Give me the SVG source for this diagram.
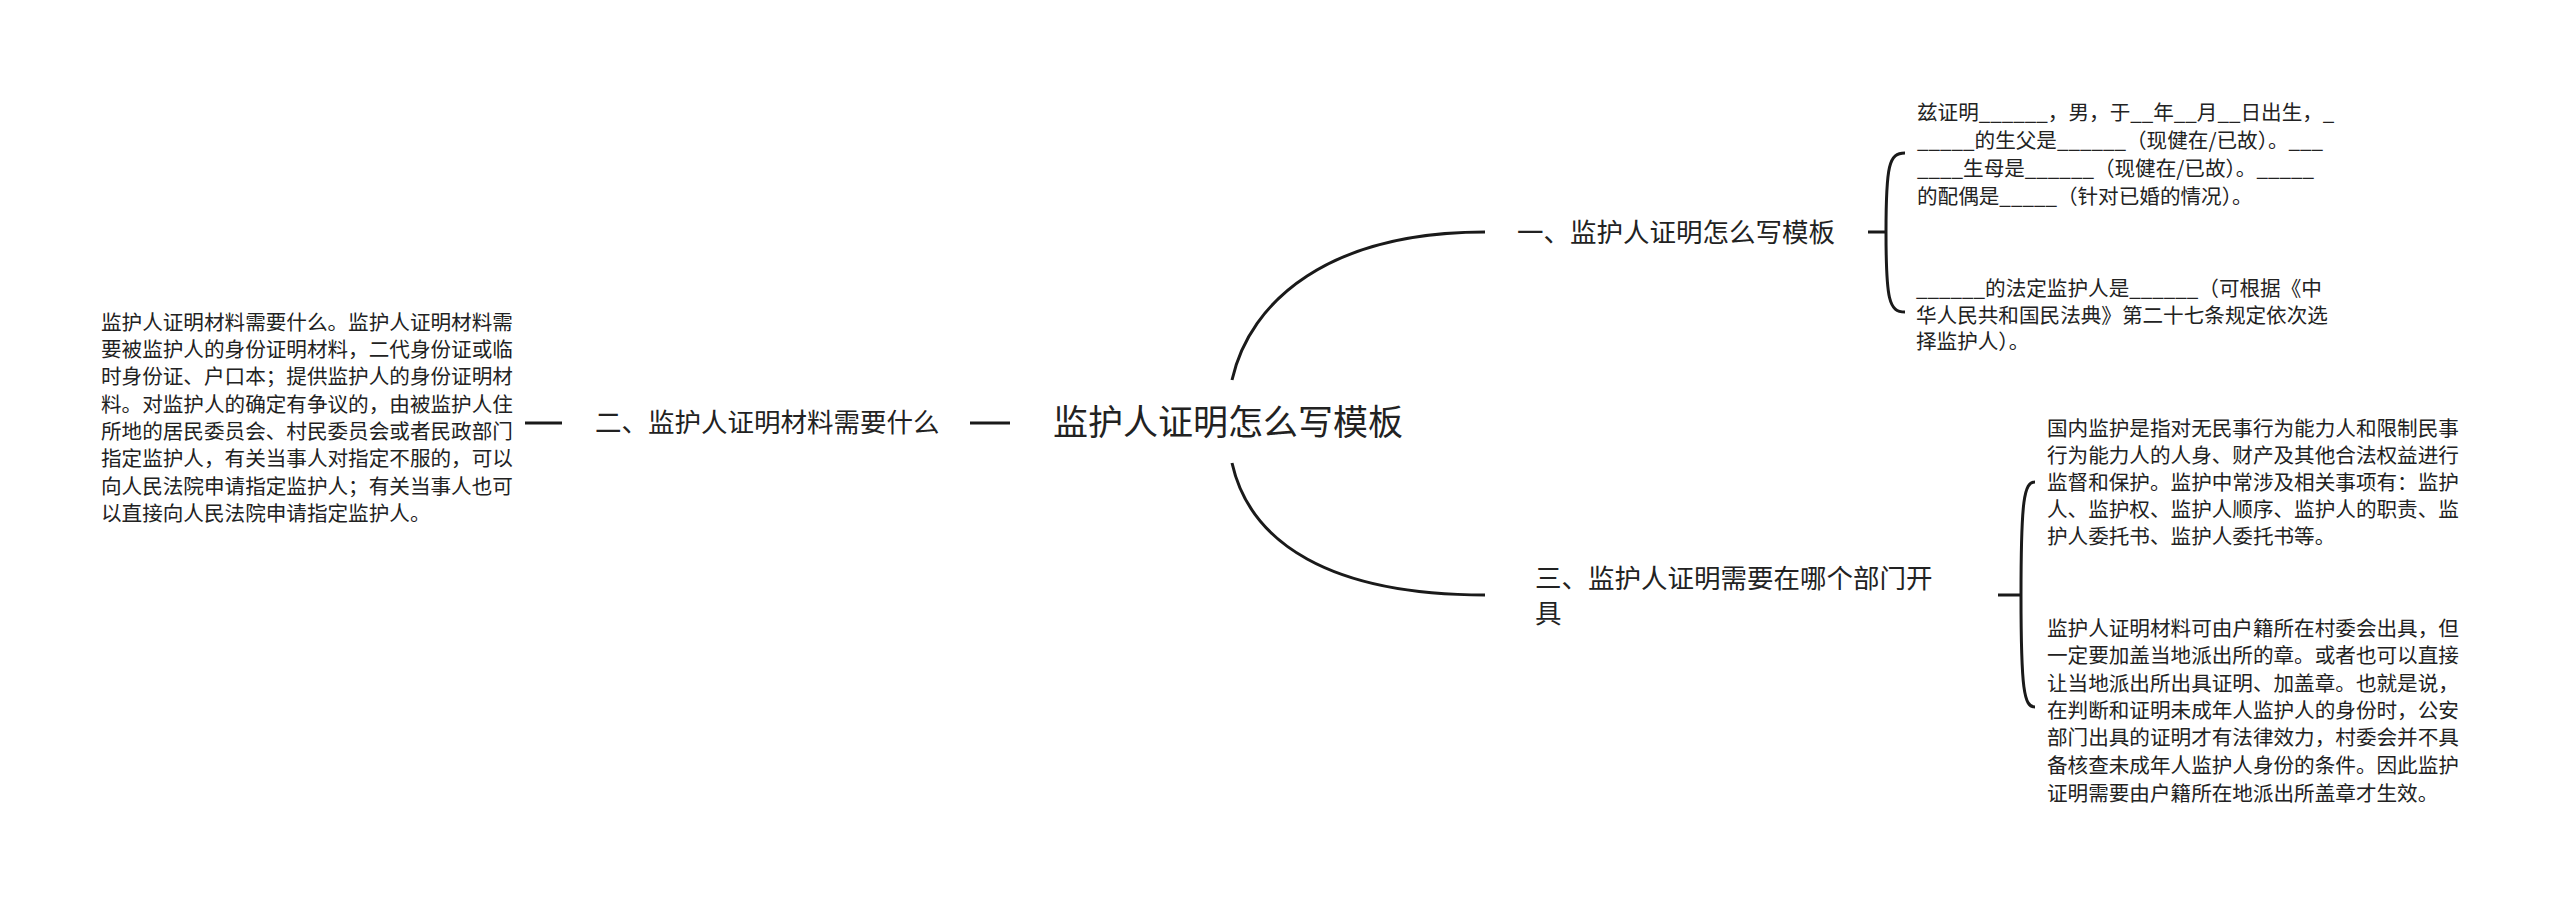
<svg xmlns="http://www.w3.org/2000/svg" width="2560" height="900" viewBox="0 0 2560 900">
<style>
text { font-family: "Noto Sans CJK SC", "Noto Sans", sans-serif; fill: #222; }
.root { font-size: 35px; }
.l1 { font-size: 26.5px; }
.leaf { font-size: 20.6px; }
.conn { fill: none; stroke: #1a1a1a; stroke-width: 3; stroke-linecap: butt; }
</style>
<rect width="2560" height="900" fill="#ffffff"/>
<g id="connectors">
  <path class="conn" d="M1232,380 C1250,300 1330,232 1485,232"/>
  <path class="conn" d="M1232,463 C1250,543 1330,595 1485,595"/>
  <path class="conn" d="M970,423 H1010"/>
  <path class="conn" d="M525,423 H562"/>
  <path class="conn" d="M1868,232 H1886 M1886,232 C1886,165 1889,153 1905,153 M1886,232 C1886,300 1889,312 1905,312"/>
  <path class="conn" d="M1998,595 H2021 M2021,595 C2021,500 2024,482 2035,482 M2021,595 C2021,690 2024,707 2035,707"/>
</g>
<g id="root">
  <text class="root" x="1053" y="435">监护人证明怎么写模板</text>
</g>
<g id="node1">
  <text class="l1" x="1517" y="242">一、监护人证明怎么写模板</text>
</g>
<g id="node2">
  <text class="l1" x="595" y="432">二、监护人证明材料需要什么</text>
</g>
<g id="node3">
  <text class="l1" x="1535" y="588">三、监护人证明需要在哪个部门开</text>
  <text class="l1" x="1535" y="623">具</text>
</g>
<g id="leaf1a">
  <text class="leaf" x="1917" y="120">兹证明______，男，于__年__月__日出生，_</text>
  <text class="leaf" x="1917" y="148">_____的生父是______（现健在/已故）。___</text>
  <text class="leaf" x="1917" y="176">____生母是______（现健在/已故）。_____</text>
  <text class="leaf" x="1917" y="204">的配偶是_____（针对已婚的情况）。</text>
</g>
<g id="leaf1b">
  <text class="leaf" x="1916" y="296">______的法定监护人是______（可根据《中</text>
  <text class="leaf" x="1916" y="323">华人民共和国民法典》第二十七条规定依次选</text>
  <text class="leaf" x="1916" y="349">择监护人）。</text>
</g>
<g id="leaf2">
  <text class="leaf" x="101" y="330">监护人证明材料需要什么。监护人证明材料需</text>
  <text class="leaf" x="101" y="357">要被监护人的身份证明材料，二代身份证或临</text>
  <text class="leaf" x="101" y="384">时身份证、户口本；提供监护人的身份证明材</text>
  <text class="leaf" x="101" y="412">料。对监护人的确定有争议的，由被监护人住</text>
  <text class="leaf" x="101" y="439">所地的居民委员会、村民委员会或者民政部门</text>
  <text class="leaf" x="101" y="466">指定监护人，有关当事人对指定不服的，可以</text>
  <text class="leaf" x="101" y="494">向人民法院申请指定监护人；有关当事人也可</text>
  <text class="leaf" x="101" y="521">以直接向人民法院申请指定监护人。</text>
</g>
<g id="leaf3a">
  <text class="leaf" x="2047" y="436">国内监护是指对无民事行为能力人和限制民事</text>
  <text class="leaf" x="2047" y="463">行为能力人的人身、财产及其他合法权益进行</text>
  <text class="leaf" x="2047" y="490">监督和保护。监护中常涉及相关事项有：监护</text>
  <text class="leaf" x="2047" y="517">人、监护权、监护人顺序、监护人的职责、监</text>
  <text class="leaf" x="2047" y="544">护人委托书、监护人委托书等。</text>
</g>
<g id="leaf3b">
  <text class="leaf" x="2047" y="636">监护人证明材料可由户籍所在村委会出具，但</text>
  <text class="leaf" x="2047" y="663">一定要加盖当地派出所的章。或者也可以直接</text>
  <text class="leaf" x="2047" y="691">让当地派出所出具证明、加盖章。也就是说，</text>
  <text class="leaf" x="2047" y="718">在判断和证明未成年人监护人的身份时，公安</text>
  <text class="leaf" x="2047" y="745">部门出具的证明才有法律效力，村委会并不具</text>
  <text class="leaf" x="2047" y="773">备核查未成年人监护人身份的条件。因此监护</text>
  <text class="leaf" x="2047" y="801">证明需要由户籍所在地派出所盖章才生效。</text>
</g>
</svg>
